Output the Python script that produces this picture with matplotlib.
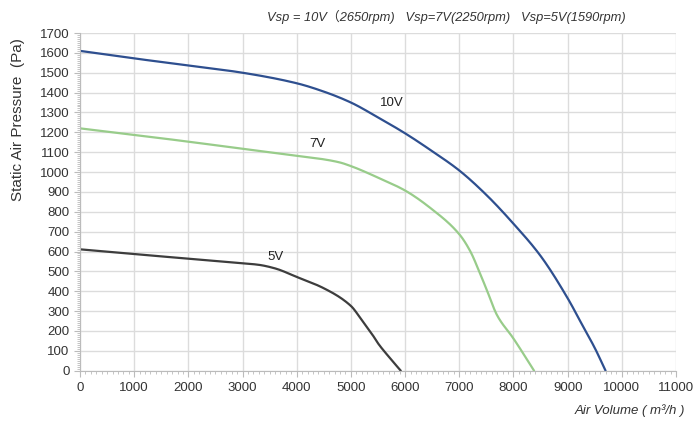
import numpy as np
import matplotlib
matplotlib.use('Agg')
from matplotlib import pyplot as plt
from matplotlib.ticker import MultipleLocator

# curve data (air volume m3/h, pressure Pa)
x_10v = [0, 1000, 2000, 3000, 4000, 4500, 5000, 5500, 6000, 6500, 7000, 7500, 8000, 8500, 9000, 9300, 9500, 9700]
p_10v = [1610, 1572, 1537, 1500, 1447, 1405, 1350, 1275, 1195, 1105, 1008, 885, 740, 578, 365, 215, 115, 0]

x_7v = [0, 1000, 2000, 3000, 4000, 4500, 4800, 5000, 5500, 6000, 6500, 7000, 7200, 7400, 7500, 7700, 8000, 8200, 8380]
p_7v = [1220, 1187, 1153, 1117, 1082, 1064, 1048, 1030, 972, 907, 812, 687, 603, 478, 412, 278, 162, 78, 0]

x_5v = [0, 1000, 2000, 3000, 3300, 3600, 4000, 4500, 5000, 5200, 5400, 5500, 5700, 5920]
p_5v = [611, 587, 564, 541, 533, 515, 472, 415, 326, 255, 180, 138, 70, 0]

labels = ['10V', '7V', '5V']
label_pos = [(5750, 1346), (4390, 1141), (3610, 574)]
colors = ['#2e4f8f', '#98cc8a', '#3d3d3d']
header = 'Vsp = 10V\uff082650rpm)   Vsp=7V(2250rpm)   Vsp=5V(1590rpm)'


def pchip(xs, ys, xf):
    # monotone cubic (Fritsch-Carlson) so the curves come out smooth
    xs = np.asarray(xs, float)
    ys = np.asarray(ys, float)
    h = np.diff(xs)
    d = np.diff(ys) / h
    m = np.zeros_like(ys)
    m[0], m[-1] = d[0], d[-1]
    for k in range(1, len(xs) - 1):
        if d[k - 1] * d[k] > 0:
            w1 = 2 * h[k] + h[k - 1]
            w2 = h[k] + 2 * h[k - 1]
            m[k] = (w1 + w2) / (w1 / d[k - 1] + w2 / d[k])
    idx = np.clip(np.searchsorted(xs, xf) - 1, 0, len(xs) - 2)
    t = (xf - xs[idx]) / h[idx]
    h00 = 2 * t**3 - 3 * t**2 + 1
    h10 = t**3 - 2 * t**2 + t
    h01 = -2 * t**3 + 3 * t**2
    h11 = t**3 - t**2
    return h00 * ys[idx] + h10 * h[idx] * m[idx] + h01 * ys[idx + 1] + h11 * h[idx] * m[idx + 1]


plt.rcParams['font.family'] = ['Liberation Sans', 'Noto Sans CJK SC', 'DejaVu Sans']

fig = plt.figure(figsize=(7, 4.29), dpi=100)
ax = fig.add_axes([80/700, 1 - 370.7/429, 596/700, 337.7/429])

curves = [(x_10v, p_10v), (x_7v, p_7v), (x_5v, p_5v)]
for (xs, ps), c in zip(curves, colors):
    xf = np.linspace(xs[0], xs[-1], 400)
    ax.plot(xf, pchip(xs, ps, xf), color=c, lw=1.6, solid_capstyle='round')

for lab, (lx, ly) in zip(labels, label_pos):
    ax.text(lx, ly, lab, fontsize=9.5, color='#222222', ha='center', va='center')

ax.set_xlim(0, 11000)
ax.set_ylim(0, 1700)
ax.xaxis.set_major_locator(MultipleLocator(1000))
ax.xaxis.set_minor_locator(MultipleLocator(100))
ax.yaxis.set_major_locator(MultipleLocator(100))
ax.yaxis.set_minor_locator(MultipleLocator(10))
ax.grid(True, which='major', color='#dcdcdc', lw=1.0)
ax.set_axisbelow(True)
for s in ['top', 'right']:
    ax.spines[s].set_visible(False)
for s in ['left', 'bottom']:
    ax.spines[s].set_color('#bbbbbb')
ax.tick_params(which='both', colors='#bbbbbb', labelcolor='#333333', labelsize=9.5)
ax.tick_params(which='major', length=4)
ax.tick_params(which='minor', length=2.5)
ax.tick_params(axis='x', pad=4)

fig.text(18/700, 1 - 120/429, 'Static Air Pressure  (Pa)', rotation=90, fontsize=11,
         color='#333333', ha='center', va='center')
fig.text(630/700, 1 - 411/429, 'Air Volume ( m\u00b3/h )', fontsize=9.5, style='italic',
         color='#333333', ha='center', va='center')
fig.text(446/700, 1 - 17/429, header, fontsize=9.3, style='italic',
         color='#333333', ha='center', va='center')

fig.savefig('out.png', dpi=100, facecolor='white')
